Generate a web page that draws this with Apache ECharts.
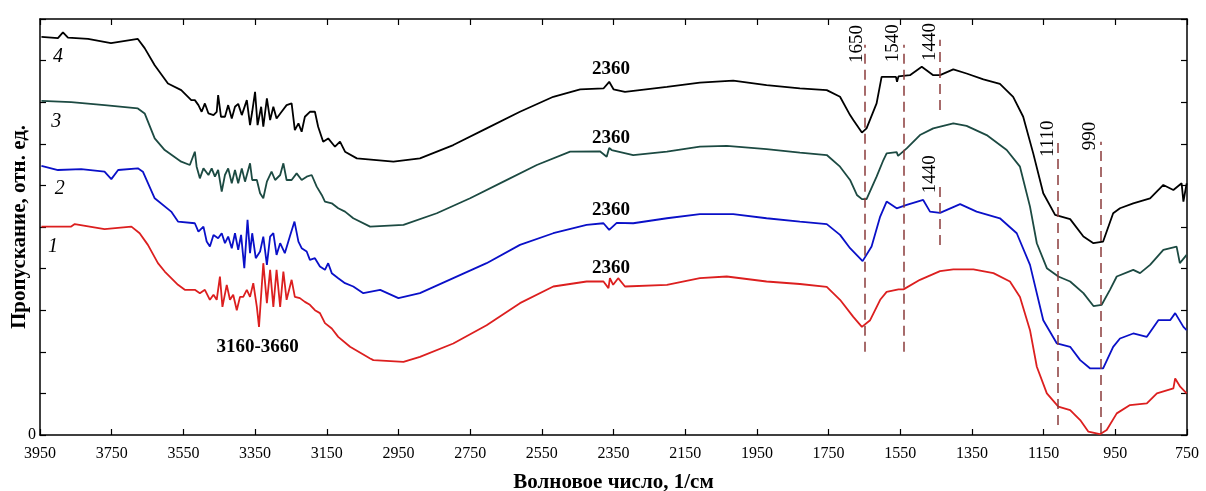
<!DOCTYPE html>
<html>
<head>
<meta charset="utf-8">
<script src="https://cdn.jsdelivr.net/npm/echarts@6/dist/echarts.min.js"></script>
<style>
  html, body { margin: 0; padding: 0; background: #fff; }
  #chart { width: 1206px; height: 491px; }
</style>
</head>
<body>
<div id="chart"></div>
<script>
// волновые числа для подписей оси
const xTicks = [3950, 3750, 3550, 3350, 3150, 2950, 2750, 2550, 2350, 2150, 1950, 1750, 1550, 1350, 1150, 950, 750];

// кривая 4 (черная)
const curve4 = [
  [3946, 9.57], [3900, 9.54], [3886, 9.68], [3872, 9.55], [3816, 9.52], [3752, 9.42], [3677, 9.52], [3672, 9.55],
  [3658, 9.30], [3630, 8.89], [3593, 8.45], [3556, 8.29], [3528, 8.05],
  [3518, 8.05], [3508, 7.93], [3499, 7.77], [3490, 7.97], [3480, 7.73], [3466, 7.69], [3457, 7.77], [3453, 8.17],
  [3445, 7.65], [3434, 7.65], [3425, 7.93], [3415, 7.61], [3406, 7.89], [3397, 7.96], [3387, 7.69], [3373, 8.05],
  [3364, 7.45], [3358, 7.77], [3350, 8.25], [3343, 7.45], [3333, 7.89], [3327, 7.41], [3317, 8.09], [3308, 7.57],
  [3299, 7.89], [3290, 7.61], [3276, 7.77], [3262, 7.93], [3248, 7.97], [3239, 7.33], [3229, 7.49], [3220, 7.29],
  [3211, 7.65], [3197, 7.77], [3183, 7.77], [3174, 7.41], [3160, 7.05], [3146, 7.13], [3127, 6.93], [3113, 7.05],
  [3099, 6.81], [3066, 6.65], [2964, 6.57], [2890, 6.65], [2797, 6.97], [2704, 7.37],
  [2611, 7.77], [2518, 8.13], [2443, 8.31], [2378, 8.33], [2362, 8.49], [2350, 8.31], [2318, 8.25], [2201, 8.37],
  [2109, 8.47], [2016, 8.52], [1923, 8.41], [1830, 8.33], [1755, 8.29], [1718, 8.13], [1690, 7.69], [1681, 7.57],
  [1657, 7.27], [1644, 7.37], [1616, 7.97], [1602, 8.61], [1562, 8.61], [1559, 8.49], [1555, 8.62], [1523, 8.65],
  [1490, 8.85], [1458, 8.65], [1439, 8.65], [1402, 8.79], [1365, 8.69], [1318, 8.55], [1272, 8.44], [1235, 8.13],
  [1207, 7.65], [1179, 6.77], [1151, 5.81], [1118, 5.29], [1076, 5.19], [1039, 4.77], [1011, 4.61], [984, 4.65],
  [956, 5.33], [937, 5.45], [900, 5.57], [853, 5.69], [816, 6.01], [788, 5.89], [765, 6.05], [760, 5.61], [751, 6.05]
];

// кривая 3 (темно-зеленая)
const curve3 = [
  [3946, 8.03], [3863, 8.00], [3770, 7.93], [3677, 7.85], [3658, 7.73], [3630, 7.13], [3602, 6.85], [3556, 6.57],
  [3532, 6.49],
  [3518, 6.81], [3513, 6.45], [3504, 6.17], [3494, 6.41], [3480, 6.25], [3471, 6.41], [3462, 6.21], [3453, 6.37],
  [3443, 5.85], [3434, 6.25], [3425, 6.41], [3415, 6.05], [3406, 6.37], [3397, 6.05], [3387, 6.41], [3378, 6.09],
  [3364, 6.53], [3358, 6.13], [3345, 6.13], [3336, 5.81], [3327, 5.69], [3317, 6.09], [3304, 6.33], [3294, 6.13],
  [3280, 6.25], [3271, 6.53], [3262, 6.13], [3248, 6.13], [3234, 6.29], [3220, 6.13], [3206, 6.21], [3192, 6.25],
  [3178, 5.97], [3164, 5.77], [3155, 5.61], [3136, 5.57], [3118, 5.45], [3099, 5.37],
  [3076, 5.21], [3029, 5.01], [2936, 5.05], [2843, 5.33],
  [2750, 5.69], [2657, 6.09], [2564, 6.49], [2471, 6.81], [2388, 6.82], [2369, 6.69], [2362, 6.90], [2355, 6.85],
  [2295, 6.73], [2201, 6.81], [2109, 6.93], [2034, 6.95], [1923, 6.87], [1830, 6.79], [1755, 6.73], [1718, 6.45],
  [1690, 6.13], [1671, 5.77], [1657, 5.67], [1644, 5.67], [1616, 6.21], [1597, 6.61], [1588, 6.77], [1560, 6.80],
  [1556, 6.71], [1532, 6.89], [1495, 7.21], [1458, 7.37], [1402, 7.49], [1365, 7.43], [1309, 7.21], [1253, 6.85],
  [1216, 6.45], [1188, 5.49], [1169, 4.61], [1141, 4.01], [1109, 3.81], [1076, 3.69], [1039, 3.41], [1011, 3.10],
  [988, 3.13], [965, 3.49], [946, 3.81], [900, 3.97], [881, 3.89], [853, 4.09], [816, 4.45], [779, 4.53],
  [770, 4.13], [751, 4.33]
];

// кривая 2 (синяя)
const curve2 = [
  [3946, 6.47], [3900, 6.37], [3835, 6.39], [3770, 6.33], [3751, 6.15], [3732, 6.37], [3677, 6.41], [3663, 6.33],
  [3630, 5.69], [3584, 5.37], [3565, 5.13],
  [3518, 5.09], [3508, 4.89], [3494, 5.01], [3485, 4.65], [3476, 4.53], [3466, 4.81], [3453, 4.73], [3443, 4.85],
  [3434, 4.61], [3425, 4.77], [3415, 4.49], [3406, 4.85], [3397, 4.45], [3389, 4.81], [3380, 4.01], [3371, 5.17],
  [3364, 4.37], [3358, 4.85], [3348, 4.25], [3336, 4.41], [3327, 4.77], [3317, 4.09], [3308, 4.77], [3299, 4.85],
  [3290, 4.33], [3280, 4.61], [3267, 4.37], [3253, 4.77], [3240, 5.13], [3229, 4.65], [3220, 4.49], [3206, 4.41],
  [3197, 4.21], [3183, 4.25], [3169, 4.05], [3155, 3.97], [3146, 4.13], [3136, 3.89], [3118, 3.77], [3099, 3.65],
  [3076, 3.57], [3048, 3.41], [3001, 3.49], [2950, 3.29], [2890, 3.41], [2797, 3.77], [2704, 4.13], [2611, 4.57],
  [2518, 4.85], [2425, 5.05], [2378, 5.09], [2362, 4.93], [2341, 5.10], [2295, 5.09], [2201, 5.21], [2109, 5.31],
  [2016, 5.31], [1923, 5.21], [1830, 5.13], [1755, 5.07], [1718, 4.81], [1690, 4.49], [1655, 4.18], [1630, 4.53],
  [1606, 5.25], [1588, 5.61], [1560, 5.45], [1532, 5.53], [1486, 5.65], [1467, 5.37], [1439, 5.34], [1383, 5.55],
  [1337, 5.37], [1272, 5.21], [1225, 4.85], [1188, 4.09], [1151, 2.76], [1113, 2.20], [1076, 2.12], [1048, 1.80],
  [1020, 1.60], [984, 1.60], [956, 2.12], [937, 2.32], [900, 2.44], [862, 2.36], [830, 2.76], [797, 2.76],
  [783, 2.93], [760, 2.60], [751, 2.52]
];

// кривая 1 (красная)
const curve1 = [
  [3946, 5.01], [3863, 5.01], [3853, 5.07], [3770, 4.95], [3695, 5.01], [3672, 4.85], [3649, 4.57], [3621, 4.13],
  [3602, 3.93], [3565, 3.61], [3546, 3.49],
  [3518, 3.49], [3504, 3.41], [3490, 3.49], [3476, 3.25], [3466, 3.37], [3457, 3.25], [3448, 3.81], [3441, 3.08],
  [3429, 3.61], [3420, 3.25], [3411, 3.37], [3401, 3.00], [3392, 3.32], [3383, 3.32], [3373, 3.49], [3364, 3.32],
  [3355, 3.65], [3345, 3.08], [3339, 2.60], [3327, 4.13], [3317, 3.17], [3308, 3.97], [3299, 3.08], [3290, 3.97],
  [3280, 3.08], [3271, 3.93], [3262, 3.25], [3248, 3.73], [3239, 3.32], [3225, 3.29], [3211, 3.20], [3197, 3.13],
  [3183, 3.00], [3169, 2.93], [3155, 2.69], [3136, 2.56], [3118, 2.36],
  [3085, 2.12], [3029, 1.84], [3020, 1.80], [2936, 1.76], [2890, 1.88], [2797, 2.20], [2704, 2.64], [2611, 3.17],
  [2518, 3.57], [2425, 3.69], [2378, 3.69], [2364, 3.53], [2360, 3.77], [2351, 3.61], [2337, 3.77], [2318, 3.57],
  [2201, 3.61], [2109, 3.77], [2034, 3.81], [1923, 3.69], [1830, 3.63], [1755, 3.56], [1718, 3.25], [1681, 2.84],
  [1657, 2.60], [1634, 2.76], [1606, 3.25], [1588, 3.44], [1555, 3.50], [1541, 3.50], [1495, 3.73], [1439, 3.94],
  [1402, 3.98], [1346, 3.98], [1290, 3.89], [1244, 3.69], [1216, 3.32], [1188, 2.52], [1169, 1.64], [1141, 1.00],
  [1109, 0.68], [1076, 0.60], [1048, 0.36], [1025, 0.08], [993, 0.02], [974, 0.12], [946, 0.52], [909, 0.72],
  [862, 0.76], [834, 1.00], [788, 1.12], [783, 1.36], [769, 1.16], [751, 1.00]
];

// штриховые линии полос: [волновое число, от, до]
const bandLines = [
  [1650, 2.0, 9.38], [1540, 2.0, 9.38], [1440, 7.81, 9.5], [1440, 4.57, 6.05], [1110, 0.24, 7.05], [990, 0.05, 7.05]
];

// подписи номеров кривых
const curveNums = [[3900, 9.09, '4'], [3905, 7.53, '3'], [3895, 5.93, '2'], [3914, 4.53, '1']];
// подписи полос горизонтальные
const bandTexts = [[3343, 2.12, '3160-3660'], [2357, 8.80, '2360'], [2357, 7.13, '2360'], [2357, 5.41, '2360'], [2357, 4.02, '2360']];
// подписи полос повернутые
const bandTextsRot = [[1671, 9.40, '1650'], [1570, 9.42, '1540'], [1467, 9.45, '1440'], [1467, 6.27, '1440'], [1138, 7.12, '1110'], [1020, 7.19, '990']];

const serif = 'Liberation Serif';

function lineSeries(name, data, color) {
  return {
    name: name, type: 'line', data: data, showSymbol: false, symbol: 'none',
    lineStyle: { color: color, width: 1.8 }, z: 3
  };
}

function textSeries(items, style) {
  return {
    type: 'scatter', symbolSize: 0, silent: true, z: 5,
    itemStyle: { opacity: 1 },
    data: items.map(function (it) {
      return {
        value: [it[0], it[1]],
        label: Object.assign({ show: true, position: 'inside', formatter: it[2], opacity: 1, textBorderWidth: 0 }, style)
      };
    })
  };
}

const axisLine = { show: true, onZero: false, lineStyle: { color: '#000', width: 1.5 } };
const tickIn = { show: true, inside: true, length: 6, lineStyle: { color: '#000', width: 1.2 } };

const option = {
  animation: false,
  backgroundColor: '#fff',
  grid: { left: 40, right: 19, top: 19, bottom: 56, containLabel: false, outerBoundsMode: 'none' },
  xAxis: [
    {
      type: 'value', min: 750, max: 3950, inverse: true, position: 'bottom',
      name: 'Волновое число, 1/см', nameLocation: 'middle', nameGap: 37, nameMoveOverlap: false,
      nameTextStyle: { fontFamily: serif, fontWeight: 'bold', fontSize: 21, color: '#000' },
      axisLine: axisLine,
      axisTick: Object.assign({ customValues: xTicks }, tickIn),
      axisLabel: { customValues: xTicks, fontFamily: serif, fontSize: 16, color: '#000', margin: 11,
        formatter: function (v) { return String(v); } },
      splitLine: { show: false }
    },
    {
      type: 'value', min: 750, max: 3950, inverse: true, position: 'top',
      axisLine: axisLine,
      axisTick: Object.assign({ customValues: xTicks }, tickIn),
      axisLabel: { show: false },
      splitLine: { show: false }
    }
  ],
  yAxis: [
    {
      type: 'value', min: 0, max: 10, interval: 1, position: 'left',
      name: 'Пропускание, отн. ед.', nameLocation: 'middle', nameGap: 10, nameMoveOverlap: false,
      nameTextStyle: { fontFamily: serif, fontWeight: 'bold', fontSize: 21, color: '#000' },
      axisLine: axisLine, axisTick: tickIn,
      axisLabel: { fontFamily: serif, fontSize: 16, color: '#000', margin: 4,
        formatter: function (v) { return v === 0 ? '0' : ''; } },
      splitLine: { show: false }
    },
    {
      type: 'value', min: 0, max: 10, interval: 1, position: 'right',
      axisLine: axisLine, axisTick: tickIn, axisLabel: { show: false }, splitLine: { show: false }
    }
  ],
  series: [
    lineSeries('4', curve4, '#000000'),
    lineSeries('3', curve3, '#1c4a42'),
    lineSeries('2', curve2, '#0a10c8'),
    lineSeries('1', curve1, '#dc1f1f'),
    {
      type: 'line', data: [], silent: true, z: 2,
      markLine: {
        silent: true, symbol: 'none', label: { show: false },
        lineStyle: { color: '#8a3b3b', width: 1.5, type: [10, 6] },
        data: bandLines.map(function (b) { return [{ coord: [b[0], b[1]] }, { coord: [b[0], b[2]] }]; })
      }
    },
    textSeries(curveNums, { fontFamily: serif, fontStyle: 'italic', fontSize: 20, color: '#000' }),
    textSeries(bandTexts, { fontFamily: serif, fontWeight: 'bold', fontSize: 19, color: '#000' }),
    textSeries(bandTextsRot, { fontFamily: serif, fontSize: 19, color: '#000', rotate: 90 })
  ]
};

const chart = echarts.init(document.getElementById('chart'));
chart.setOption(option);
</script>
</body>
</html>
